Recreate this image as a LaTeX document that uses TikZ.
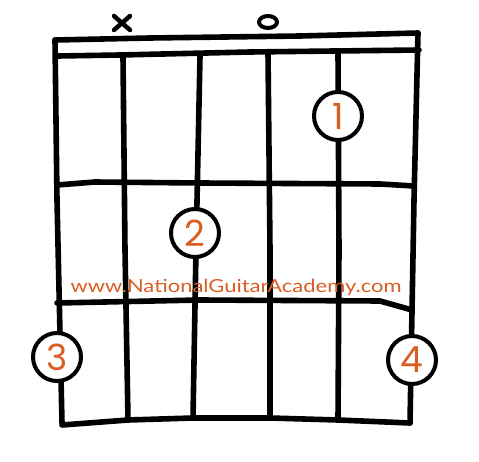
\documentclass[tikz,border=0pt]{standalone}
\usepackage{fontspec}
\setmainfont{Poppins}
\newfontfamily\sitefont{Lato}
\usetikzlibrary{positioning}
\definecolor{ngaorange}{RGB}{217,94,34}

\begin{document}
\begin{tikzpicture}[x=1pt, y=-1pt, line width=5.6pt, line cap=round, line join=round,
  finger/.style={circle, draw, fill=white, line width=4pt, minimum size=48pt, inner sep=0pt,
    text=ngaorange, font=\fontsize{36}{36}\selectfont},
  marker/.style={line width=4.5pt}]
\useasboundingbox (0,0) rectangle (479,462);

% Strings
\draw (55,40) -- (57,200) -- (62,423);
\draw (123,57) -- (125,250) -- (128,420);
\draw (200,56) -- (196,250) -- (193,418);
\draw (268,53) -- (270,250) -- (270,418);
\draw (338,52) -- (339,250) -- (338,420);
\draw (418,33) -- (414,200) -- (410,423);

% Nut
\draw (55,40) -- (150,38) -- (300,36) -- (418,33);
\draw (58,56) -- (120,55) -- (250,52) -- (419,50);

% Frets
\draw (57,185) -- (95,182) -- (200,183) -- (380,184) -- (414,186);
\draw (57,303) -- (200,300) -- (380,301) -- (412,310);
\draw (62,425) -- (128,420) -- (193,418) -- (270,418) -- (338,420) -- (410,423);

% Muted / open strings
\draw[marker] (114,16) -- (130,30);
\draw[marker] (114,30) -- (130,16);
\draw[line width=4pt] (268,22) ellipse (9 and 6);

% Fingers
\node[finger] (f1) at (338,116) {1};
\node[finger] (f2) at (195,233) {2};
\node[finger] (f3) at (57,357) {3};
\node[finger] (f4) at (412,360) {4};

\node[text=ngaorange, font=\sitefont\fontsize{18}{18}\selectfont] (site) at (236,287)
  {\scalebox{1.22}[1]{www.NationalGuitarAcademy.com}};
\end{tikzpicture}
\end{document}
